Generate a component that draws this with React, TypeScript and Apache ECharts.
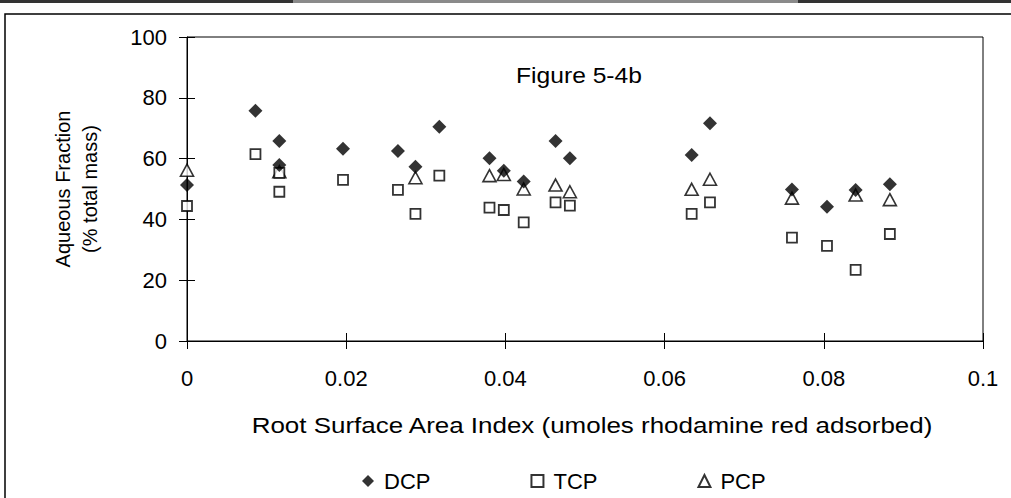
import React, { useEffect, useRef } from "react";
import * as echarts from "echarts";

// Root surface area index (shared x for each sample)
const xValues = [0, 0.0086, 0.0116, 0.0116, 0.0196, 0.0265, 0.0287, 0.0317, 0.038, 0.0398, 0.0423, 0.0463, 0.0481, 0.0634, 0.0657, 0.076, 0.0804, 0.084, 0.0883];
const dcpValues = [51.3, 75.7, 65.8, 57.9, 63.2, 62.5, 57.3, 70.5, 60.1, 56.0, 52.5, 65.8, 60.1, 61.2, 71.6, 49.8, 44.2, 49.7, 51.6];
const tcpValues = [44.4, 61.5, 49.1, 55.3, 53.0, 49.7, 41.8, 54.4, 43.9, 43.1, 39.0, 45.6, 44.5, 41.8, 45.6, 34.0, 31.3, 23.4, 35.2];
const pcpValues: (number | null)[] = [56.2, null, null, 55.7, null, null, 53.7, null, 54.4, 54.8, 50.0, 51.3, 49.1, 49.9, 53.2, 47.0, null, 48.0, 46.5];
const seriesNames = ["DCP", "TCP", "PCP"];
const yTicks = { min: 0, max: 100, interval: 20 };
const xTicks = { min: 0, max: 0.1, interval: 0.02 };
const figureLabel = "Figure 5-4b";
const xTitle = "Root Surface Area Index (umoles rhodamine red adsorbed)";
const yTitle = "Aqueous Fraction\n(% total mass)";

const FONT = "Liberation Sans, Arial, sans-serif";

function pairs(vals: (number | null)[]) {
  const out: number[][] = [];
  vals.forEach((v, i) => {
    if (v !== null && v !== undefined) out.push([xValues[i], v]);
  });
  return out;
}

export default function App() {
  const ref = useRef<HTMLDivElement>(null);
  useEffect(() => {
    if (!ref.current) return;
    const chart = echarts.init(ref.current, null, { renderer: "svg" });
    const axisLine = { show: true, lineStyle: { color: "#000", width: 1 } };
    const tickOut = { show: true, inside: false, length: 8, lineStyle: { color: "#000", width: 1 } };
    const tickIn = { show: true, inside: true, length: 8, lineStyle: { color: "#000", width: 1 } };
    chart.setOption({
      animation: false,
      backgroundColor: "#fff",
      textStyle: { fontFamily: FONT },
      grid: { left: 187, top: 37, right: 28, bottom: 157, show: true, borderColor: "#000", borderWidth: 1, containLabel: false },
      xAxis: [
        {
          type: "value",
          ...xTicks,
          position: "bottom",
          axisLine,
          axisTick: tickOut,
          splitLine: { show: false },
          axisLabel: { color: "#000", fontSize: 22, fontFamily: FONT, margin: 26 },
        },
        {
          type: "value",
          ...xTicks,
          position: "bottom",
          axisLine: { show: false },
          axisTick: tickIn,
          splitLine: { show: false },
          axisLabel: { show: false },
        },
      ],
      yAxis: [
        {
          type: "value",
          ...yTicks,
          position: "left",
          axisLine,
          axisTick: tickOut,
          splitLine: { show: false },
          axisLabel: { color: "#000", fontSize: 22, fontFamily: FONT, margin: 20 },
          name: yTitle,
          nameLocation: "middle",
          nameRotate: 90,
          nameGap: 84,
          nameTextStyle: { color: "#000", fontSize: 20, fontFamily: FONT, lineHeight: 27 },
        },
        {
          type: "value",
          ...yTicks,
          position: "left",
          axisLine: { show: false },
          axisTick: tickIn,
          splitLine: { show: false },
          axisLabel: { show: false },
        },
      ],
      legend: {
        data: seriesNames,
        left: 357,
        top: 465,
        itemGap: 100,
        itemWidth: 12,
        itemHeight: 12,
        textStyle: { color: "#000", fontSize: 22, fontFamily: FONT, padding: [0, 0, 0, 5] },
      },
      graphic: [
        { type: "rect", shape: { x: 0, y: 0, width: 1011, height: 3 }, style: { fill: "#333" }, silent: true },
        { type: "rect", shape: { x: 293, y: 0, width: 505, height: 3 }, style: { fill: "#8a8a8a" }, silent: true },
        { type: "rect", shape: { x: 5, y: 14, width: 1100, height: 600 }, style: { fill: "none", stroke: "#000", lineWidth: 1.5 }, silent: true },
        {
          type: "text",
          x: 579,
          y: 75,
          scaleX: 1.12,
          style: { text: figureLabel, fill: "#000", font: `22px ${FONT}`, textAlign: "center", textVerticalAlign: "middle" },
        },
        {
          type: "text",
          x: 592,
          y: 425,
          scaleX: 1.18,
          style: { text: xTitle, fill: "#000", font: `22px ${FONT}`, textAlign: "center", textVerticalAlign: "middle" },
        },
      ],
      series: [
        {
          name: "PCP",
          type: "scatter",
          z: 2,
          symbol: "triangle",
          symbolSize: [13, 12],
          itemStyle: { color: "#fff", borderColor: "#000", borderWidth: 1.6 },
          data: pairs(pcpValues),
        },
        {
          name: "TCP",
          type: "scatter",
          z: 3,
          symbol: "rect",
          symbolSize: 10,
          itemStyle: { color: "#fff", borderColor: "#000", borderWidth: 1.8 },
          data: pairs(tcpValues),
        },
        {
          name: "DCP",
          type: "scatter",
          z: 4,
          symbol: "diamond",
          symbolSize: 14,
          itemStyle: { color: "#000", borderColor: "#000", borderWidth: 0 },
          data: pairs(dcpValues),
        },
      ],
    });
    return () => chart.dispose();
  }, []);
  return (
    <div
      ref={ref}
      style={{ position: "fixed", left: 0, top: 0, width: 1011, height: 498, background: "#fff" }}
    />
  );
}
